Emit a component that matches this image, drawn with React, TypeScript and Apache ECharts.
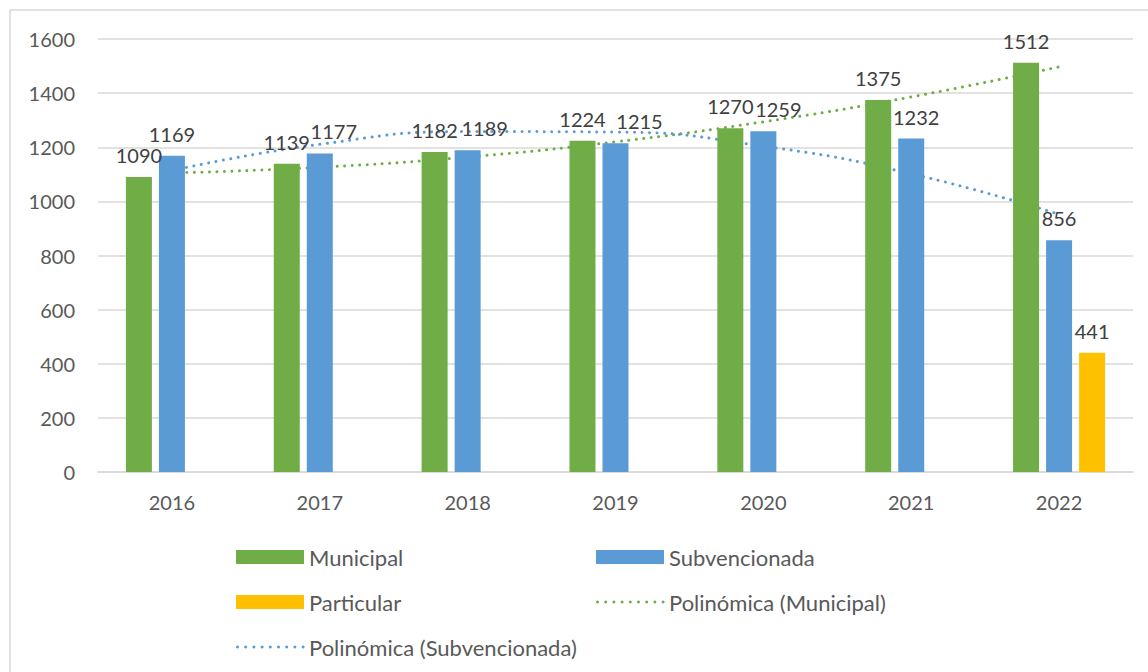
import React, { useEffect, useRef } from "react";
import * as echarts from "echarts";

const years = ["2016", "2017", "2018", "2019", "2020", "2021", "2022"];
const municipal = [1090, 1139, 1182, 1224, 1270, 1375, 1512];
const subvencionada = [1169, 1177, 1189, 1215, 1259, 1232, 856];
const particular = [null, null, null, null, null, null, 441];
// polynomial trend lines
const trendMunicipal = [1105, 1126, 1164, 1220, 1294, 1386, 1497];
const trendSubvencionada = [1114, 1211, 1258, 1256, 1204, 1102, 952];
// horizontal shift of the Subvencionada labels (as laid out in the reference)
const subLabelShift = [0, 14, 17, 24, 15, 5, 0];

const FONT = "Lato";
const GREEN = "#70AD47";
const BLUE = "#5B9BD5";
const YELLOW = "#FFC000";

function dottedIcon(x: number, y: number, color: string) {
  const children: any[] = [];
  for (let i = 0; i < 9; i++) {
    children.push({
      type: "circle",
      shape: { cx: x + 1.5 + i * 8.2, cy: y, r: 1.5 },
      style: { fill: color },
      silent: true,
    });
  }
  return { type: "group", children };
}

export default function App() {
  const ref = useRef<HTMLDivElement>(null);
  useEffect(() => {
    if (!ref.current) return;
    const chart = echarts.init(ref.current, null, { renderer: "svg" });
    const label = {
      show: true,
      position: "top",
      distance: 12,
      color: "#404040",
      fontSize: 20,
      fontFamily: FONT,
    };
    const legendBase = {
      orient: "horizontal",
      itemGap: 8,
      padding: 0,
      textStyle: { color: "#595959", fontSize: 22, fontFamily: FONT },
      itemWidth: 68,
      itemHeight: 14,
      selectedMode: false,
    };
    const dotted = (color: string) => ({
      color,
      width: 3,
      type: [0.01, 7.5],
      cap: "round",
    });
    chart.setOption({
      animation: false,
      backgroundColor: "#ffffff",
      textStyle: { fontFamily: FONT },
      graphic: [
        {
          type: "rect",
          shape: { x: 10, y: 10, width: 1300, height: 800 },
          style: { fill: "none", stroke: "#d9d9d9", lineWidth: 1.5 },
          silent: true,
        },
        dottedIcon(596, 602, GREEN),
        dottedIcon(236, 647, BLUE),
      ],
      grid: { left: 98, right: 15, top: 39, bottom: 200 },
      legend: [
        { ...legendBase, left: 236, top: 546, data: [{ name: "Municipal", icon: "rect" }] },
        { ...legendBase, left: 596, top: 546, data: [{ name: "Subvencionada", icon: "rect" }] },
        { ...legendBase, left: 236, top: 591, data: [{ name: "Particular", icon: "rect" }] },
        {
          ...legendBase,
          left: 596,
          top: 591,
          data: [{ name: "Polinómica (Municipal)", icon: "rect", itemStyle: { opacity: 0 } }],
        },
        {
          ...legendBase,
          left: 236,
          top: 636,
          data: [{ name: "Polinómica (Subvencionada)", icon: "rect", itemStyle: { opacity: 0 } }],
        },
      ],
      xAxis: {
        type: "category",
        data: years,
        axisTick: { show: false },
        axisLine: { lineStyle: { color: "#d9d9d9", width: 1.5 } },
        axisLabel: { color: "#595959", fontSize: 20, fontFamily: FONT, margin: 20 },
      },
      yAxis: {
        type: "value",
        min: 0,
        max: 1600,
        interval: 200,
        axisLine: { show: false },
        axisTick: { show: false },
        splitLine: { lineStyle: { color: "#d9d9d9", width: 1.5 } },
        axisLabel: {
          color: "#595959",
          fontSize: 20,
          fontFamily: FONT,
          margin: 23,
          formatter: (v: number) => String(v),
        },
      },
      series: [
        {
          name: "Municipal",
          type: "bar",
          data: municipal,
          barWidth: 26,
          barGap: "27%",
          z: 3,
          itemStyle: { color: GREEN },
          label,
        },
        {
          name: "Subvencionada",
          type: "bar",
          data: subvencionada.map((v, i) => ({
            value: v,
            label: { offset: [subLabelShift[i], 0] },
          })),
          barWidth: 26,
          barGap: "27%",
          z: 3,
          itemStyle: { color: BLUE },
          label,
        },
        {
          name: "Particular",
          type: "bar",
          data: particular,
          barWidth: 26,
          barGap: "27%",
          z: 3,
          itemStyle: { color: YELLOW },
          label,
        },
        {
          name: "Polinómica (Municipal)",
          type: "line",
          data: trendMunicipal,
          smooth: true,
          symbol: "none",
          showSymbol: false,
          z: 1,
          itemStyle: { color: GREEN },
          lineStyle: dotted(GREEN),
        },
        {
          name: "Polinómica (Subvencionada)",
          type: "line",
          data: trendSubvencionada,
          smooth: true,
          symbol: "none",
          showSymbol: false,
          z: 1,
          itemStyle: { color: BLUE },
          lineStyle: dotted(BLUE),
        },
      ],
    });
    return () => chart.dispose();
  }, []);
  return (
    <div
      ref={ref}
      style={{ position: "absolute", left: 0, top: 0, width: 1148, height: 672 }}
    />
  );
}
